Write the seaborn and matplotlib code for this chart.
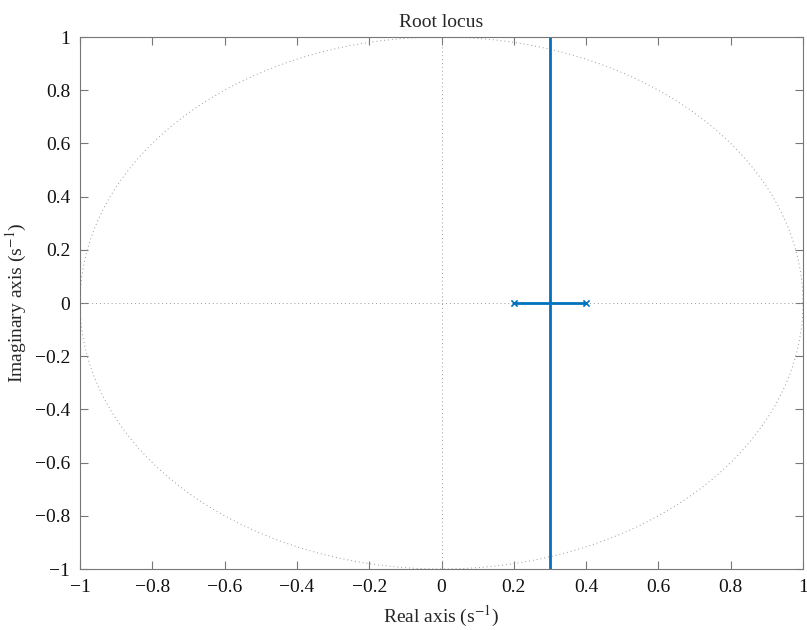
import numpy as np
import pandas as pd
import matplotlib
matplotlib.use("Agg")
import matplotlib.pyplot as plt
import seaborn as sns

sns.set_theme(style="white")
plt.rcParams['font.family'] = ['Liberation Serif', 'DejaVu Serif']
plt.rcParams['mathtext.fontset'] = 'stix'

poles_re = [0.2, 0.4]
poles_im = [0.0, 0.0]
branch1_re = [0.2, 0.3, 0.3]
branch1_im = [0.0, 0.0, 1.0]
branch2_re = [0.4, 0.3, 0.3]
branch2_im = [0.0, 0.0, -1.0]
ticks = [-1, -0.8, -0.6, -0.4, -0.2, 0, 0.2, 0.4, 0.6, 0.8, 1]
tick_labels = ["\u22121", "\u22120.8", "\u22120.6", "\u22120.4", "\u22120.2", "0", "0.2", "0.4", "0.6", "0.8", "1"]

blue = "#0072BD"
fig = plt.figure(figsize=(8.07, 6.30), dpi=100)
ax = fig.add_axes([80/807, 1-569/630, (803-80)/807, (569-37)/630])

# unit circle and axes lines (dotted grid)
th = np.linspace(0, 2*np.pi, 400)
ax.plot(np.cos(th), np.sin(th), ls=(0, (1, 3)), color="#999999", lw=0.7)
ax.plot([-1, 1], [0, 0], ls=(0, (1, 3)), color="#999999", lw=0.7)
ax.plot([0, 0], [-1, 1], ls=(0, (1, 3)), color="#999999", lw=0.7)

for re, im in [(branch1_re, branch1_im), (branch2_re, branch2_im)]:
    df = pd.DataFrame({"re": re, "im": im})
    sns.lineplot(data=df, x="re", y="im", sort=False, estimator=None, color=blue, lw=2, ax=ax)
sns.scatterplot(x=poles_re, y=poles_im, marker="x", color=blue, s=20, linewidth=1.2, ax=ax, zorder=5)

ax.set_xlim(-1, 1)
ax.set_ylim(-1, 1)
ax.set_xticks(ticks)
ax.set_xticklabels(tick_labels)
ax.set_yticks(ticks)
ax.set_yticklabels(tick_labels)
ax.tick_params(direction="in", length=6, width=0.8, color="#777777", labelsize=14,
               top=True, right=True, bottom=True, left=True, labelcolor="#111111", pad=7)
for s in ax.spines.values():
    s.set_color("#777777")
    s.set_linewidth(0.8)
ax.set_xlabel("Real axis (s$^{-1}$)", fontsize=14, labelpad=6)
ax.set_ylabel("Imaginary axis (s$^{-1}$)", fontsize=14, labelpad=4)
ax.set_title("Root locus", fontsize=14, pad=7)
fig.savefig("out.png", dpi=100)
